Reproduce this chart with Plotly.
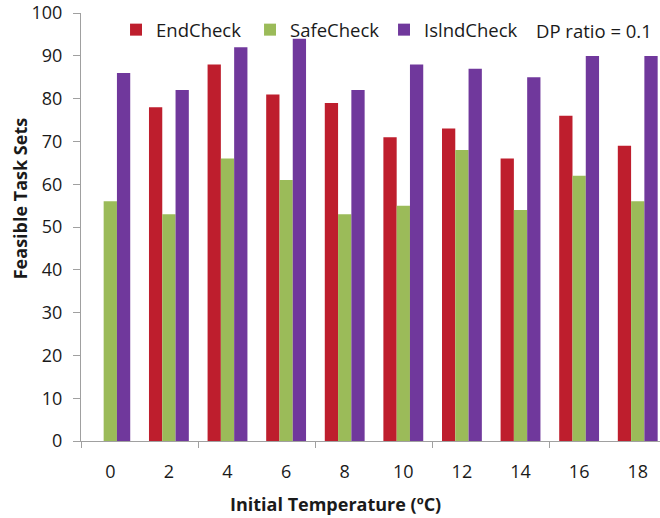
import plotly.graph_objects as go

# Initial temperature (°C) categories and feasible task set counts per check
temperatures = ["0", "2", "4", "6", "8", "10", "12", "14", "16", "18"]
end_check = [0, 78, 88, 81, 79, 71, 73, 66, 76, 69]
safe_check = [56, 53, 66, 61, 53, 55, 68, 54, 62, 56]
islnd_check = [86, 82, 92, 94, 82, 88, 87, 85, 90, 90]

series = [
    ("EndCheck", end_check, "#BE1E2D"),
    ("SafeCheck", safe_check, "#9BBB59"),
    ("IslndCheck", islnd_check, "#70389C"),
]

FONT = "Open Sans"
TEXT = "#1a1a1a"
AXIS = "#A0A0A0"

fig = go.Figure()
for name, vals, color in series:
    fig.add_trace(go.Bar(x=temperatures, y=vals, name=name,
                         marker=dict(color=color, line=dict(width=0))))

# hidden trace carrying the secondary x axis used for boundary ticks
fig.add_trace(go.Scatter(x=[0], y=[0], xaxis="x2", mode="markers",
                         marker=dict(opacity=0), showlegend=False,
                         hoverinfo="skip"))

x_range = [-0.5, 9.38]

fig.update_layout(
    width=660, height=518,
    margin=dict(l=81, r=0, t=9, b=77),
    paper_bgcolor="white", plot_bgcolor="white",
    barmode="group", bargap=0.32, bargroupgap=0,
    font=dict(family=FONT, size=18, color=TEXT),
    showlegend=True,
    legend=dict(orientation="h", x=0.0605, y=0.96, xanchor="left",
                yanchor="middle", bgcolor="rgba(0,0,0,0)",
                font=dict(family=FONT, size=18.5, color=TEXT),
                entrywidth=89, entrywidthmode="pixels",
                traceorder="normal"),
    xaxis=dict(type="category", range=x_range, showline=True,
               linecolor=AXIS, linewidth=1, ticks="", showgrid=False,
               zeroline=False, ticklabelstandoff=14,
               tickfont=dict(family=FONT, size=18, color=TEXT)),
    xaxis2=dict(overlaying="x", anchor="y", side="bottom", type="linear",
                range=x_range, tickmode="array",
                tickvals=[-0.5, 1.5, 3.5, 5.5, 7.5, 9.5],
                ticks="outside", ticklen=6, tickcolor=AXIS,
                showticklabels=False, showgrid=False, zeroline=False,
                showline=False),
    yaxis=dict(range=[0, 100.02], tickmode="array",
               tickvals=list(range(0, 101, 10)), showline=True,
               linecolor=AXIS, linewidth=1, ticks="outside", ticklen=7,
               tickcolor=AXIS, showgrid=False, zeroline=False,
               ticklabelstandoff=7, ticklabeloverflow="allow",
               tickfont=dict(family=FONT, size=18, color=TEXT)),
    annotations=[
        dict(text="DP ratio = 0.1", xref="paper", yref="paper",
             x=(534 - 81) / 579, y=0.96, xanchor="left", yanchor="middle",
             showarrow=False, font=dict(family=FONT, size=18.5, color=TEXT)),
        dict(text="<b>Initial Temperature (ºC)</b>", xref="paper",
             yref="paper", x=(335.5 - 81) / 579, y=(441 - 505) / 432,
             xanchor="center", yanchor="middle", showarrow=False,
             font=dict(family=FONT, size=18, color=TEXT)),
        dict(text="<b>Feasible Task Sets</b>", xref="paper", yref="paper",
             x=(20 - 81) / 579, y=(441 - 197) / 432, xanchor="center",
             yanchor="middle", textangle=-90, showarrow=False,
             font=dict(family=FONT, size=18, color=TEXT)),
    ],
)

fig.write_html("out.html")
